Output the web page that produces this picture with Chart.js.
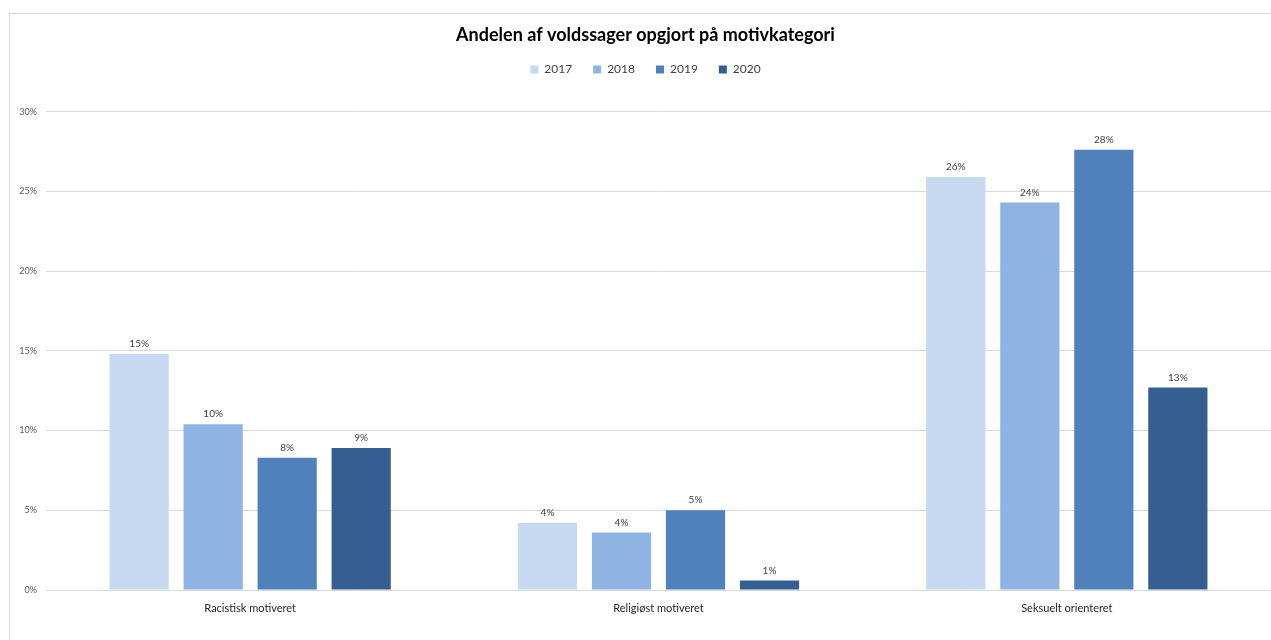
<!DOCTYPE html>
<html lang="da">
<head>
  <meta charset="UTF-8" />
  <title>Andelen af voldssager opgjort på motivkategori</title>
  <style>
    body {
      margin: 0;
      background: #ffffff;
      width: 1271px;
      height: 640px;
      overflow: hidden;
      position: relative;
    }
    #frame {
      position: absolute;
      left: 9px;
      top: 13px;
      width: 1280px;
      height: 660px;
      border-left: 1px solid #d9d9d9;
      border-top: 1px solid #d9d9d9;
    }
    #chart-box {
      position: absolute;
      left: 0;
      top: 0;
      width: 1271px;
      height: 640px;
    }
  </style>
</head>
<body>
  <div id="frame"></div>
  <div id="chart-box">
    <canvas id="motivChart" width="1271" height="640"></canvas>
  </div>

  <script src="https://cdn.jsdelivr.net/npm/chart.js"></script>
  <script>
    const categories = ["Racistisk motiveret", "Religiøst motiveret", "Seksuelt orienteret"];
    const years = ["2017", "2018", "2019", "2020"];
    // andel i procent
    const y2017 = [14.8, 4.2, 25.9];
    const y2018 = [10.4, 3.6, 24.3];
    const y2019 = [8.3, 5.0, 27.6];
    const y2020 = [8.9, 0.6, 12.7];
    const yTicks = [0, 5, 10, 15, 20, 25, 30];

    const colors = ['#c6d9f0', '#8eb4e3', '#4f81bd', '#365f91'];
    const font = "Lato, 'Open Sans', sans-serif";

    // tal over søjlerne
    const barLabels = {
      id: 'barLabels',
      afterDatasetsDraw(chart) {
        const ctx = chart.ctx;
        ctx.save();
        ctx.font = '10px ' + font;
        ctx.fillStyle = '#404040';
        ctx.textAlign = 'center';
        ctx.textBaseline = 'middle';
        chart.data.datasets.forEach((ds, i) => {
          chart.getDatasetMeta(i).data.forEach((bar, j) => {
            ctx.fillText(Math.round(ds.data[j]) + '%', bar.x, bar.y - 10);
          });
        });
        ctx.restore();
      }
    };

    // luft under forklaringen, og titel/forklaring centreret på rammen
    const headerTweak = {
      id: 'headerTweak',
      afterInit(chart) {
        const fit = chart.legend.fit;
        chart.legend.fit = function () {
          fit.call(this);
          this.height += 26;
        };
      },
      afterLayout(chart) {
        [chart.titleBlock, chart.legend].forEach(b => {
          if (!b) return;
          b.left += 10;
          b.right += 10;
        });
      }
    };

    const series = [y2017, y2018, y2019, y2020];
    const datasets = years.map((y, i) => ({
      label: y,
      data: series[i],
      backgroundColor: colors[i],
      borderWidth: 0,
      categoryPercentage: 0.725,
      barPercentage: 0.8
    }));

    new Chart(document.getElementById('motivChart'), {
      type: 'bar',
      data: { labels: categories, datasets },
      plugins: [barLabels, headerTweak],
      options: {
        responsive: false,
        animation: false,
        layout: { padding: { top: 0, left: 0, right: 0, bottom: 0 } },
        plugins: {
          title: {
            display: true,
            text: 'Andelen af voldssager opgjort på motivkategori',
            color: '#000000',
            font: { family: font, size: 18, weight: 'bold' },
            padding: { top: 24, bottom: -3 }
          },
          legend: {
            display: true,
            labels: {
              color: '#404040',
              font: { family: font, size: 12 },
              boxWidth: 8,
              boxHeight: 8,
              padding: 21
            }
          },
          tooltip: { enabled: false }
        },
        scales: {
          x: {
            grid: { display: false },
            border: { display: false },
            ticks: {
              color: '#262626',
              font: { family: font, size: 11 },
              padding: 4
            },
            afterFit(s) { s.height = 50; }
          },
          y: {
            min: 0,
            max: 30,
            afterBuildTicks(s) { s.ticks = yTicks.map(v => ({ value: v })); },
            grid: { color: '#d9d9d9', drawTicks: false },
            border: { display: false },
            ticks: {
              color: '#595959',
              font: { family: font, size: 9 },
              padding: 9,
              callback: v => v + '%'
            },
            afterFit(s) { s.width = 46; }
          }
        }
      }
    });
  </script>
</body>
</html>
